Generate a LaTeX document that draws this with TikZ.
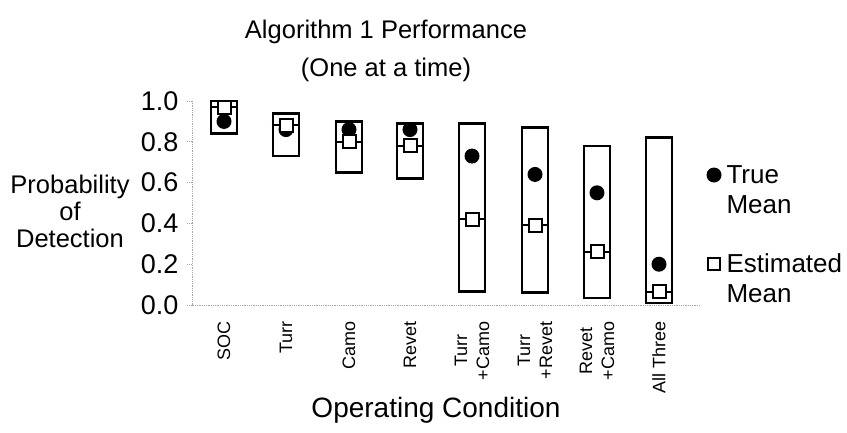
\documentclass[tikz,border=0pt]{standalone}
\usepackage{fontspec}
\setmainfont{Liberation Sans}
\usetikzlibrary{positioning}

\begin{document}
\begin{tikzpicture}[x=1pt, y=-1pt, range box/.style={draw, line width=2.6pt, minimum width=26pt, inner sep=0pt}, true mean/.style={circle, fill, inner sep=0pt, minimum size=15pt}, est mean/.style={draw, fill=white, line width=2pt, inner sep=0pt, minimum size=13pt}, whisker/.style={line width=2pt}, axis line/.style={gray!70, densely dotted, line width=0.8pt}, big text/.style={font=\fontsize{26}{30}\selectfont}, cond text/.style={font=\fontsize{18}{22}\selectfont, rotate=90, anchor=east, align=center}]
	\useasboundingbox (0,0) rectangle (847,432);
	\node[font=\fontsize{25.5}{38}\selectfont, align=center] (title) at (386,51) {Algorithm 1 Performance\\(One at a time)};
	\node[font=\fontsize{25.5}{27}\selectfont, align=center] (ylab) at (70,211) {Probability\\of\\Detection};
	\draw[axis line] (192,101) -- (192,305) -- (700,305);
	\foreach \v [count=\k] in {0.0,0.2,0.4,0.6,0.8,1.0} {
		\node[font=\fontsize{27}{30}\selectfont, anchor=east] (tick\k) at (182,{305-204*\v}) {\v};
		\draw[axis line] (187,{305-204*\v}) -- (192,{305-204*\v});
	}
	\foreach \i/\x/\lo/\hi/\tm/\em/\t in {1/224/0.84/1.0/0.90/0.97/SOC, 2/286/0.73/0.94/0.86/0.88/Turr, 3/349/0.65/0.90/0.86/0.80/Camo, 4/410/0.62/0.89/0.86/0.78/Revet, 5/472/0.065/0.89/0.73/0.42/{Turr\\+Camo}, 6/535/0.06/0.87/0.64/0.39/{Turr\\+Revet}, 7/597/0.035/0.78/0.55/0.26/{Revet\\+Camo}, 8/659/0.01/0.82/0.20/0.065/All Three} {
		\node[range box, minimum height={(\hi-\lo)*204pt}] (b\i) at (\x,{305-102*(\hi+\lo)}) {};
		\node[true mean] (tm\i) at (\x,{305-204*\tm}) {};
		\node[est mean] (em\i) at (\x,{305-204*\em}) {};
		\draw[whisker] (b\i.west |- em\i.west) -- (em\i.west) (em\i.east) -- (b\i.east |- em\i.east);
		\node[cond text] (c\i) at (\x,318) {\t};
	}
	\node[font=\fontsize{28}{30}\selectfont] (xlab) at (436,410) {Operating Condition};
	\node[true mean] (ltm) at (714,175) {};
	\node[big text, align=left, anchor=west] (ltmt) at (723,190) {True\\Mean};
	\node[est mean, minimum size=12pt] (lem) at (714,264) {};
	\node[big text, align=left, anchor=west] (lemt) at (723,278) {Estimated\\Mean};
\end{tikzpicture}
\end{document}
